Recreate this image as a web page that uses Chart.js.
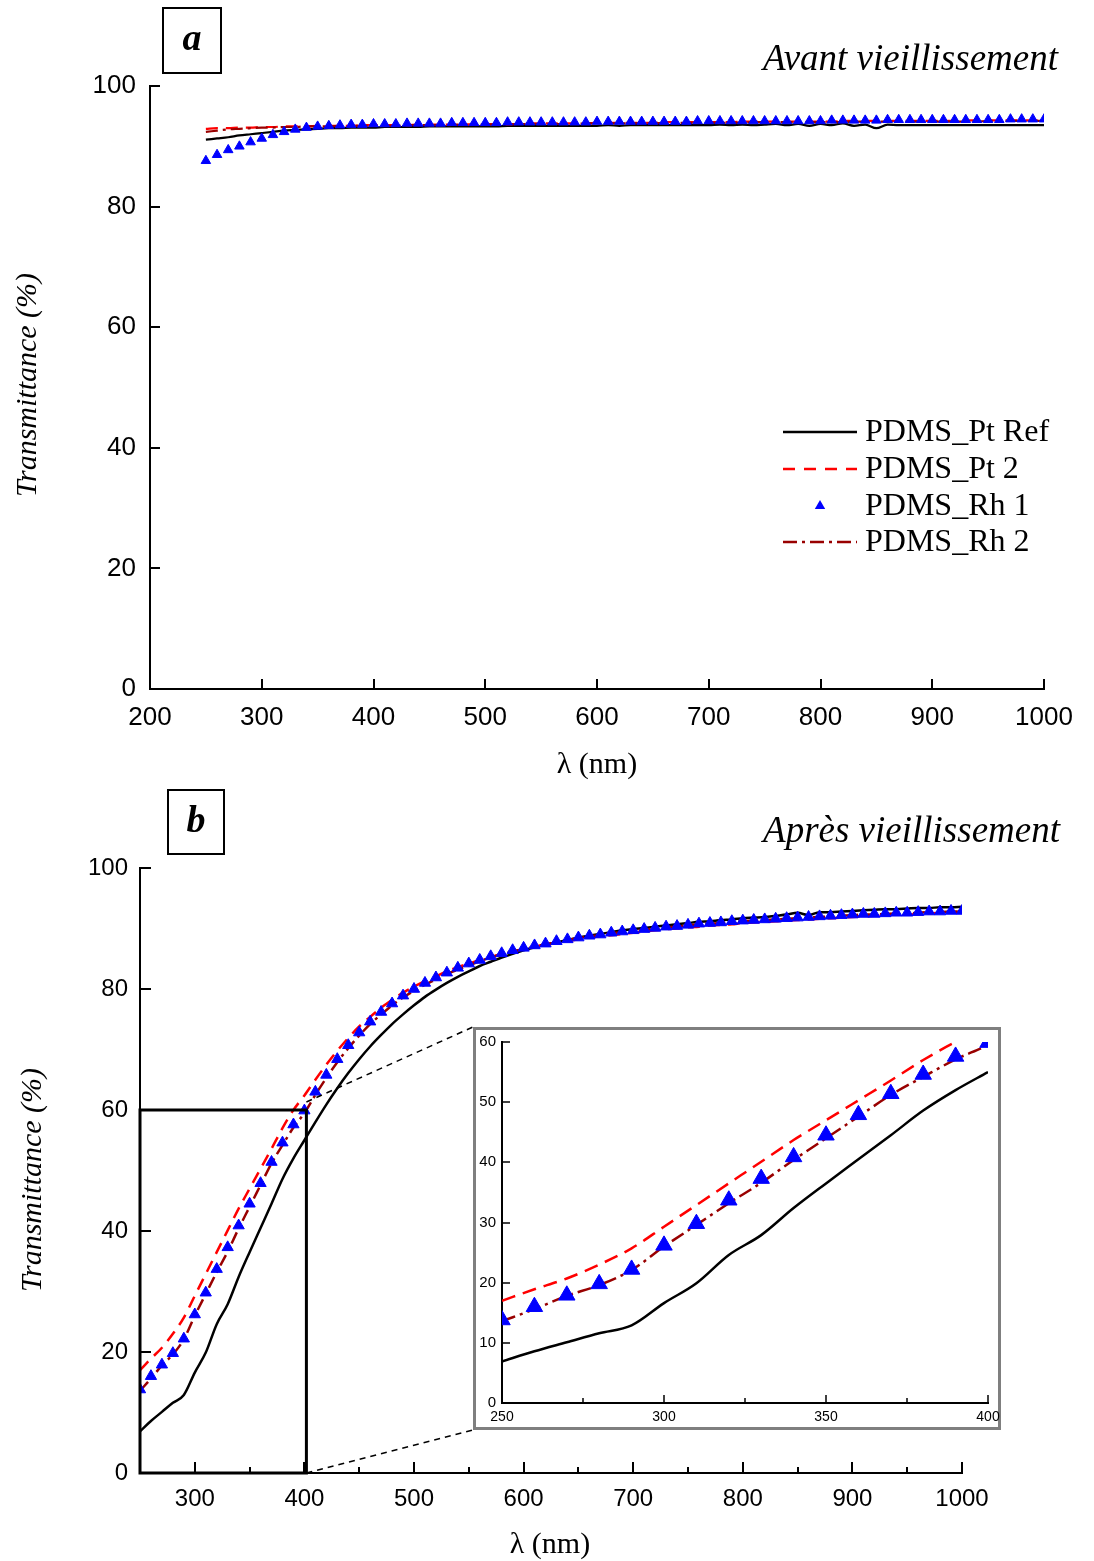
<!DOCTYPE html>
<html>
<head>
<meta charset="utf-8">
<script src="https://cdn.jsdelivr.net/npm/chart.js@4.4.0/dist/chart.umd.min.js"></script>
<style>
  body { margin: 0; background: #fff; }
  #wrap { position: relative; width: 1094px; height: 1561px; }
  canvas { position: absolute; }
</style>
</head>
<body>
<div id="wrap">
  <canvas id="chart-a" width="1094" height="780" style="left:0;top:0"></canvas>
  <canvas id="chart-b" width="1094" height="781" style="left:0;top:780px"></canvas>
  <canvas id="chart-inset" width="528" height="403" style="left:473px;top:1027px"></canvas>
</div>
<script>
// Wavelengths (nm), shared by both panels
const wavelengths = [250, 260, 270, 280, 290, 300, 310, 320, 330, 340,
  350, 360, 370, 380, 390, 400, 410, 420, 430, 440,
  450, 460, 470, 480, 490, 500, 510, 520, 530, 540,
  550, 560, 570, 580, 590, 600, 610, 620, 630, 640,
  650, 660, 670, 680, 690, 700, 710, 720, 730, 740,
  750, 760, 770, 780, 790, 800, 810, 820, 830, 840,
  850, 860, 870, 880, 890, 900, 910, 920, 930, 940,
  950, 960, 970, 980, 990, 1000];

const seriesNames = ['PDMS_Pt Ref', 'PDMS_Pt 2', 'PDMS_Rh 1', 'PDMS_Rh 2'];

// Panel a - before ageing (%)
const ptRefA = [91.1, 91.3, 91.5, 91.8, 92.0, 92.2, 92.4, 92.6, 92.7, 92.8,
  92.9, 93.0, 93.0, 93.1, 93.1, 93.1, 93.2, 93.2, 93.2, 93.2,
  93.3, 93.3, 93.3, 93.3, 93.3, 93.3, 93.3, 93.4, 93.4, 93.4,
  93.4, 93.4, 93.4, 93.4, 93.4, 93.4, 93.5, 93.4, 93.5, 93.5,
  93.5, 93.5, 93.5, 93.5, 93.5, 93.5, 93.6, 93.5, 93.6, 93.5,
  93.6, 93.7, 93.5, 93.7, 93.4, 93.7, 93.5, 93.8, 93.4, 93.6,
  93.0, 93.6, 93.5, 93.5, 93.5, 93.5, 93.5, 93.5, 93.5, 93.5,
  93.5, 93.5, 93.5, 93.5, 93.5, 93.5];
const pt2A = [92.9, 93.0, 93.0, 93.1, 93.1, 93.2, 93.2, 93.3, 93.3, 93.3,
  93.4, 93.4, 93.4, 93.4, 93.5, 93.5, 93.5, 93.5, 93.5, 93.6,
  93.6, 93.6, 93.6, 93.6, 93.7, 93.7, 93.7, 93.7, 93.7, 93.8,
  93.8, 93.8, 93.8, 93.8, 93.8, 93.9, 93.9, 93.9, 93.9, 93.9,
  93.9, 94.0, 94.0, 94.0, 94.0, 94.0, 94.0, 94.0, 94.1, 94.1,
  94.1, 94.1, 94.1, 94.1, 94.1, 94.1, 94.1, 94.2, 94.2, 94.2,
  94.2, 94.2, 94.2, 94.2, 94.2, 94.2, 94.2, 94.2, 94.3, 94.3,
  94.3, 94.3, 94.3, 94.3, 94.3, 94.3];
const rh1A = [87.6, 88.6, 89.4, 90.0, 90.7, 91.3, 91.9, 92.4, 92.8, 93.1,
  93.3, 93.4, 93.5, 93.6, 93.6, 93.7, 93.7, 93.7, 93.8, 93.8,
  93.8, 93.8, 93.9, 93.9, 93.9, 93.9, 93.9, 94.0, 94.0, 94.0,
  94.0, 94.0, 94.0, 94.0, 94.0, 94.1, 94.1, 94.1, 94.1, 94.1,
  94.1, 94.1, 94.1, 94.1, 94.2, 94.2, 94.2, 94.2, 94.2, 94.2,
  94.2, 94.2, 94.2, 94.2, 94.2, 94.2, 94.3, 94.3, 94.3, 94.3,
  94.3, 94.4, 94.4, 94.4, 94.4, 94.4, 94.4, 94.4, 94.4, 94.4,
  94.4, 94.4, 94.5, 94.5, 94.5, 94.5];
const rh2A = [92.4, 92.6, 92.8, 92.9, 93.0, 93.1, 93.1, 93.2, 93.2, 93.3,
  93.3, 93.3, 93.4, 93.4, 93.4, 93.4, 93.4, 93.4, 93.5, 93.5,
  93.5, 93.5, 93.5, 93.6, 93.6, 93.6, 93.6, 93.6, 93.7, 93.7,
  93.7, 93.7, 93.7, 93.7, 93.8, 93.8, 93.8, 93.8, 93.8, 93.8,
  93.8, 93.9, 93.9, 93.9, 93.9, 93.9, 93.9, 93.9, 93.9, 94.0,
  94.0, 94.0, 94.0, 94.0, 94.0, 94.0, 94.0, 94.0, 94.1, 94.1,
  94.1, 94.1, 94.1, 94.1, 94.1, 94.1, 94.1, 94.1, 94.1, 94.1,
  94.2, 94.2, 94.2, 94.2, 94.2, 94.2];

// Panel b - after ageing (%)
const ptRefB = [6.9, 8.6, 10.1, 11.6, 12.9, 16.6, 19.9, 24.6, 27.9, 32.4,
  36.5, 40.5, 44.5, 48.6, 52.0, 55.0, 58.0, 60.9, 63.6, 66.1,
  68.4, 70.5, 72.4, 74.2, 75.8, 77.3, 78.7, 79.9, 81.0, 82.0,
  82.9, 83.8, 84.5, 85.2, 85.8, 86.4, 86.9, 87.3, 87.7, 88.1,
  88.5, 88.8, 89.1, 89.4, 89.7, 89.9, 90.1, 90.3, 90.5, 90.7,
  90.9, 91.1, 91.2, 91.4, 91.5, 91.7, 91.8, 91.9, 92.1, 92.3,
  92.6, 92.2, 92.7, 92.7, 92.8, 92.9, 93.0, 93.1, 93.2, 93.2,
  93.3, 93.4, 93.4, 93.5, 93.5, 93.6];
const pt2B = [17.0, 18.9, 20.7, 23.0, 25.7, 29.3, 32.9, 36.5, 40.1, 43.7,
  47.0, 50.3, 53.6, 57.0, 60.0, 62.4, 65.0, 67.5, 69.8, 71.9,
  73.8, 75.4, 76.9, 78.2, 79.4, 80.4, 81.3, 82.1, 82.9, 83.6,
  84.2, 84.8, 85.3, 85.8, 86.2, 86.6, 87.0, 87.3, 87.6, 87.9,
  88.2, 88.5, 88.7, 88.9, 89.1, 89.3, 89.5, 89.7, 89.9, 90.0,
  90.2, 90.3, 90.5, 90.6, 90.7, 90.9, 91.0, 91.1, 91.2, 91.3,
  91.4, 91.5, 91.6, 91.7, 91.8, 91.9, 92.0, 92.1, 92.2, 92.3,
  92.3, 92.4, 92.5, 92.6, 92.6, 92.7];
const rh1B = [13.8, 16.0, 17.9, 19.8, 22.2, 26.2, 29.8, 33.7, 37.3, 40.9,
  44.5, 47.9, 51.4, 54.6, 57.6, 59.9, 63.0, 65.8, 68.4, 70.7,
  72.8, 74.6, 76.2, 77.6, 78.9, 80.0, 81.0, 81.9, 82.7, 83.5,
  84.2, 84.8, 85.4, 85.9, 86.4, 86.8, 87.2, 87.5, 87.9, 88.2,
  88.5, 88.8, 89.0, 89.3, 89.5, 89.7, 89.9, 90.1, 90.3, 90.4,
  90.6, 90.8, 90.9, 91.0, 91.2, 91.3, 91.4, 91.5, 91.6, 91.7,
  91.8, 91.9, 92.0, 92.1, 92.2, 92.3, 92.4, 92.4, 92.5, 92.6,
  92.6, 92.7, 92.8, 92.8, 92.9, 92.9];
const rh2B = [13.6, 15.6, 17.8, 19.6, 22.1, 26.0, 29.6, 33.2, 36.6, 40.4,
  44.0, 47.6, 51.2, 54.2, 57.1, 59.5, 62.5, 65.3, 67.9, 70.2,
  72.3, 74.2, 75.8, 77.3, 78.6, 79.7, 80.7, 81.6, 82.5, 83.2,
  83.9, 84.6, 85.2, 85.7, 86.2, 86.6, 87.0, 87.4, 87.7, 88.1,
  88.4, 88.7, 88.9, 89.2, 89.4, 89.6, 89.8, 90.0, 90.2, 90.3,
  90.5, 90.7, 90.8, 90.9, 91.1, 91.2, 91.3, 91.4, 91.5, 91.6,
  91.7, 91.8, 91.9, 92.0, 92.1, 92.2, 92.3, 92.3, 92.4, 92.5,
  92.5, 92.6, 92.7, 92.7, 92.8, 92.8];

const colors = { ref: '#000000', pt2: '#ff0000', rh1: '#0000ff', rh2: '#990000' };
const serif = "'Liberation Serif', 'Times New Roman', serif";

Chart.defaults.font.family = "'Liberation Sans', Arial, sans-serif";
Chart.defaults.color = '#000';
Chart.defaults.animation = false;

function pts(ys) {
  return wavelengths.map((x, i) => ({ x: x, y: ys[i] }));
}

function makeDatasets(ref, pt2, rh1, rh2, lw, dash, tri) {
  return [
    { label: seriesNames[2], data: pts(rh1), showLine: false, pointStyle: 'triangle',
      pointRadius: tri, backgroundColor: colors.rh1, borderColor: colors.rh1, borderWidth: 1, order: 0 },
    { label: seriesNames[3], data: pts(rh2), borderColor: colors.rh2, borderWidth: lw,
      borderDash: [dash, 5, 3, 5], pointRadius: 0, cubicInterpolationMode: 'monotone', order: 1 },
    { label: seriesNames[1], data: pts(pt2), borderColor: colors.pt2, borderWidth: lw,
      borderDash: [dash, 8], pointRadius: 0, cubicInterpolationMode: 'monotone', order: 2 },
    { label: seriesNames[0], data: pts(ref), borderColor: colors.ref, borderWidth: lw,
      pointRadius: 0, cubicInterpolationMode: 'monotone', order: 3 }
  ];
}

function xAxis(min, max, step, size, pad, every, height) {
  return {
    type: 'linear', min: min, max: max,
    grid: { display: false, drawTicks: false },
    border: { display: true, color: '#000', width: 2 },
    ticks: { stepSize: step, autoSkip: false, maxRotation: 0, padding: pad,
      font: { size: size }, color: '#000',
      callback: v => (v % every === 0 ? v : '') },
    afterFit: s => {
      s.height = height;
      // let end labels spill into the layout padding
      s.paddingLeft = 0;
      s.paddingRight = 0;
    }
  };
}

function yAxis(max, step, size, pad, width) {
  return {
    min: 0, max: max,
    grid: { display: false, drawTicks: false },
    border: { display: true, color: '#000', width: 2 },
    ticks: { stepSize: step, padding: pad, font: { size: size }, color: '#000' },
    afterFit: s => { s.width = width; }
  };
}

// inward tick marks
function tickPlugin(major, minor, every, lw) {
  return {
    id: 'inTicks',
    afterDraw(chart) {
      const ctx = chart.ctx;
      const xs = chart.scales.x, ys = chart.scales.y;
      ctx.save();
      ctx.strokeStyle = '#000';
      ctx.lineWidth = lw;
      xs.ticks.forEach(t => {
        const px = Math.round(xs.getPixelForValue(t.value));
        const len = t.value % every === 0 ? major : minor;
        ctx.beginPath();
        ctx.moveTo(px, xs.top);
        ctx.lineTo(px, xs.top - len);
        ctx.stroke();
      });
      ys.ticks.forEach(t => {
        const py = Math.round(ys.getPixelForValue(t.value));
        ctx.beginPath();
        ctx.moveTo(ys.right, py);
        ctx.lineTo(ys.right + major, py);
        ctx.stroke();
      });
      ctx.restore();
    }
  };
}

function drawYTitle(ctx, x, y) {
  ctx.save();
  ctx.translate(x, y);
  ctx.rotate(-Math.PI / 2);
  ctx.font = 'italic 30px ' + serif;
  ctx.textAlign = 'center';
  ctx.textBaseline = 'middle';
  ctx.fillText('Transmittance (%)', 0, 0);
  ctx.restore();
}

function drawPanelTag(ctx, letter, x, y, w, h) {
  ctx.save();
  ctx.strokeStyle = '#000';
  ctx.lineWidth = 2;
  ctx.strokeRect(x, y, w, h);
  ctx.font = 'italic bold 38px ' + serif;
  ctx.textAlign = 'center';
  ctx.textBaseline = 'middle';
  ctx.fillText(letter, x + w / 2, y + h / 2);
  ctx.restore();
}

// Panel a annotations: tag, title, axis titles, legend
const annotA = {
  id: 'annotA',
  afterDraw(chart) {
    const ctx = chart.ctx;
    drawPanelTag(ctx, 'a', 163, 8, 58, 65);
    ctx.save();
    ctx.font = 'italic 37px ' + serif;
    ctx.textAlign = 'right';
    ctx.textBaseline = 'alphabetic';
    ctx.fillText('Avant vieillissement', 1058, 70);
    ctx.font = '30px ' + serif;
    ctx.textAlign = 'center';
    ctx.textBaseline = 'middle';
    ctx.fillText('\u03bb (nm)', 597, 765);
    ctx.restore();
    drawYTitle(ctx, 28, 385);

    // legend
    const rows = [432, 469, 506, 542];
    ctx.save();
    ctx.font = '32px ' + serif;
    ctx.textAlign = 'left';
    ctx.textBaseline = 'middle';
    rows.forEach((ry, i) => {
      ctx.fillStyle = '#000';
      ctx.fillText(seriesNames[i], 865, ry + 1);
    });
    ctx.lineWidth = 2.5;
    ctx.strokeStyle = colors.ref;
    ctx.beginPath(); ctx.moveTo(783, rows[0]); ctx.lineTo(857, rows[0]); ctx.stroke();
    ctx.strokeStyle = colors.pt2;
    ctx.setLineDash([12, 9]);
    ctx.beginPath(); ctx.moveTo(783, rows[1]); ctx.lineTo(857, rows[1]); ctx.stroke();
    ctx.strokeStyle = colors.rh2;
    ctx.setLineDash([14, 5, 3, 5]);
    ctx.beginPath(); ctx.moveTo(783, rows[3]); ctx.lineTo(857, rows[3]); ctx.stroke();
    ctx.setLineDash([]);
    ctx.fillStyle = colors.rh1;
    const r = 6, cx = 820, cy = rows[2];
    ctx.beginPath();
    ctx.moveTo(cx, cy - r);
    ctx.lineTo(cx + r * 0.866, cy + r / 2);
    ctx.lineTo(cx - r * 0.866, cy + r / 2);
    ctx.closePath();
    ctx.fill();
    ctx.restore();
  }
};

// Panel b annotations: tag, title, zoom rectangle and connectors
const insetBox = { left: 473, top: 1027 - 780, right: 1001, bottom: 1430 - 780 };
const annotB = {
  id: 'annotB',
  afterDatasetsDraw(chart) {
    const ctx = chart.ctx;
    const xs = chart.scales.x, ys = chart.scales.y;
    const x0 = xs.getPixelForValue(250), x1 = xs.getPixelForValue(400) + 2;
    const y0 = ys.getPixelForValue(60), y1 = ys.getPixelForValue(0);
    ctx.save();
    ctx.strokeStyle = '#000';
    ctx.lineWidth = 3;
    ctx.strokeRect(x0, y0, x1 - x0, y1 - y0);
    ctx.lineWidth = 1.5;
    ctx.setLineDash([6, 5]);
    ctx.beginPath();
    ctx.moveTo(x1, y0 - 8); ctx.lineTo(insetBox.left, insetBox.top);
    ctx.moveTo(x1, y1); ctx.lineTo(insetBox.left, insetBox.bottom);
    ctx.stroke();
    ctx.restore();
  },
  afterDraw(chart) {
    const ctx = chart.ctx;
    drawPanelTag(ctx, 'b', 168, 10, 56, 64);
    ctx.save();
    ctx.font = 'italic 37px ' + serif;
    ctx.textAlign = 'right';
    ctx.textBaseline = 'alphabetic';
    ctx.fillText('Apr\u00e8s vieillissement', 1060, 62);
    ctx.font = '30px ' + serif;
    ctx.textAlign = 'center';
    ctx.textBaseline = 'middle';
    ctx.fillText('\u03bb (nm)', 550, 765);
    ctx.restore();
    drawYTitle(ctx, 33, 400);
  }
};

// white card with grey frame behind the inset, drawn first so labels sit on top
const insetFrame = {
  id: 'insetFrame',
  beforeDraw(chart) {
    const ctx = chart.ctx;
    ctx.save();
    ctx.fillStyle = '#fff';
    ctx.fillRect(0, 0, chart.width, chart.height);
    ctx.strokeStyle = '#7f7f7f';
    ctx.lineWidth = 3;
    ctx.strokeRect(1.5, 1.5, chart.width - 3, chart.height - 3);
    ctx.restore();
  }
};

new Chart(document.getElementById('chart-a'), {
  type: 'line',
  data: { datasets: makeDatasets(ptRefA, pt2A, rh1A, rh2A, 2.2, 12, 5.5) },
  options: {
    responsive: false,
    layout: { padding: { left: 0, top: 86, right: 50, bottom: 11 } },
    plugins: { legend: { display: false }, tooltip: { enabled: false } },
    scales: {
      x: xAxis(200, 1000, 100, 26, 13, 100, 80),
      y: yAxis(100, 20, 26, 14, 150)
    }
  },
  plugins: [tickPlugin(10, 10, 100, 2), annotA]
});

new Chart(document.getElementById('chart-b'), {
  type: 'line',
  data: { datasets: makeDatasets(ptRefB, pt2B, rh1B, rh2B, 2.5, 12, 6.5) },
  options: {
    responsive: false,
    layout: { padding: { left: 0, top: 88, right: 132, bottom: 8 } },
    plugins: { legend: { display: false }, tooltip: { enabled: false } },
    scales: {
      x: xAxis(250, 1000, 50, 24, 12, 100, 80),
      y: yAxis(100, 20, 24, 12, 140)
    }
  },
  plugins: [tickPlugin(11, 6, 100, 2), annotB]
});

new Chart(document.getElementById('chart-inset'), {
  type: 'line',
  data: { datasets: makeDatasets(ptRefB, pt2B, rh1B, rh2B, 2.5, 14, 9.5) },
  options: {
    responsive: false,
    layout: { padding: { left: 0, top: 15, right: 13, bottom: 2 } },
    plugins: { legend: { display: false }, tooltip: { enabled: false } },
    scales: {
      x: xAxis(250, 400, 25, 14, 6, 50, 25),
      y: yAxis(60, 10, 15, 6, 29)
    }
  },
  plugins: [insetFrame, tickPlugin(8, 5, 50, 1.5)]
});
</script>
</body>
</html>
